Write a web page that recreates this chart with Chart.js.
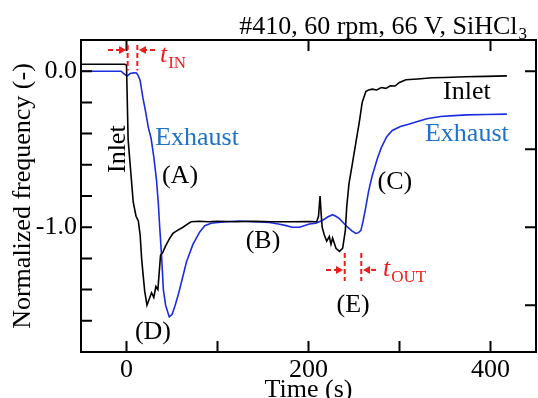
<!DOCTYPE html>
<html>
<head>
<meta charset="utf-8">
<script src="https://cdn.jsdelivr.net/npm/chart.js@4.4.1/dist/chart.umd.min.js"></script>
<style>
  html, body { margin: 0; padding: 0; background: #fff; }
  #wrap { width: 538px; height: 398px; }
</style>
</head>
<body>
<div id="wrap"><canvas id="c" width="538" height="398"></canvas></div>
<script>
// time (s) and normalized frequency
const inletT = [-50, -20, -2, 0, 1.8, 4.6, 7.4, 10.5, 13, 15, 16.6, 18.5, 20, 22.5, 25, 27.5, 30, 32.3, 34.5,
  37.4, 40, 43, 47.6, 51, 56, 62, 67, 71, 80, 90, 100, 120, 140, 160, 180, 200, 209, 211, 212.7, 214, 215, 217.4,
  220, 222.9, 224.7, 226.5, 230.2, 234, 237.5, 240.5, 242, 244.5, 248, 252, 256, 259, 263, 266, 270, 275, 280,
  285, 290, 295, 300, 307, 320, 336, 350, 372, 395, 418];
const inletV = [0.045, 0.045, 0.045, 0.04, -0.44, -0.64, -0.84, -0.93, -0.96, -1.05, -1.2, -1.32, -1.41, -1.5, -1.46,
  -1.42, -1.45, -1.38, -1.4, -1.18, -1.16, -1.12, -1.07, -1.04, -1.02, -1.0, -0.98, -0.965, -0.962, -0.965,
  -0.962, -0.965, -0.962, -0.965, -0.965, -0.963, -0.965, -0.93, -0.8, -0.92, -1.0, -1.05, -1.09, -1.06, -1.11,
  -1.07, -1.135, -1.155, -1.135, -1.02, -0.87, -0.72, -0.6, -0.46, -0.32, -0.2, -0.13, -0.12, -0.115, -0.12,
  -0.105, -0.11, -0.093, -0.095, -0.072, -0.055, -0.05, -0.042, -0.04, -0.036, -0.033, -0.03];

const exhaustT = [-50, -20, -6, -3, -1, 1, 4, 8, 11, 13, 15, 18, 21, 24, 27, 30, 33, 35, 36.5, 38.5, 40.5, 43, 47,
  50, 53, 57, 60.5, 66, 73, 80.5, 86, 93, 100, 110, 124, 140, 157, 167, 175.5, 182, 190, 201, 208, 215.6, 221,
  226.5, 230, 234, 238, 243, 248, 252, 255, 257.6, 260, 263, 266, 270, 275.7, 280, 286, 292, 301, 310, 318, 330,
  345, 360, 374, 395, 418];
const exhaustV = [0.0, 0.0, 0.0, -0.015, -0.025, -0.03, -0.015, -0.01, -0.012, -0.03, -0.06, -0.17, -0.26, -0.36,
  -0.43, -0.55, -0.7, -0.85, -1.0, -1.18, -1.4, -1.5, -1.575, -1.56, -1.51, -1.43, -1.35, -1.22, -1.11, -1.03,
  -0.99, -0.975, -0.97, -0.965, -0.96, -0.965, -0.97, -0.98, -0.99, -1.0, -1.0, -0.98, -0.975, -0.955, -0.935,
  -0.92, -0.93, -0.945, -0.97, -1.0, -1.025, -1.04, -1.035, -1.02, -0.96, -0.87, -0.77, -0.67, -0.56, -0.49,
  -0.42, -0.38, -0.355, -0.34, -0.325, -0.305, -0.29, -0.285, -0.28, -0.278, -0.275];

const xTicks = [0, 100, 200, 300, 400];
const xTopTicks = [0, 200, 400];
const xLabels = [0, 200, 400];
const yTicksLeft = [0.0, -0.2, -0.4, -0.6, -0.8, -1.0, -1.2, -1.4, -1.6];
const yTicksRight = [0.0, -0.5, -1.0, -1.5];
const yLabels = [0.0, -1.0];

const SERIF = '"Liberation Serif", "DejaVu Serif", serif';
const BLUE_LINE = '#1a2de0';
const BLUE_TEXT = '#1f72c8';
const RED = '#ee1c1c';

function pts(ts, vs) { return ts.map((t, i) => ({ x: t, y: vs[i] })); }

function arrow(ctx, x0, x1, y) {
  // dashed shaft from x0 toward x1, filled head at x1
  const dir = Math.sign(x1 - x0);
  ctx.save();
  ctx.strokeStyle = RED; ctx.fillStyle = RED; ctx.lineWidth = 2;
  ctx.setLineDash([5, 3]);
  ctx.beginPath(); ctx.moveTo(x0, y); ctx.lineTo(x1 - dir * 6, y); ctx.stroke();
  ctx.setLineDash([]);
  ctx.beginPath();
  ctx.moveTo(x1, y); ctx.lineTo(x1 - dir * 7, y - 4); ctx.lineTo(x1 - dir * 7, y + 4);
  ctx.closePath(); ctx.fill();
  ctx.restore();
}

function vdash(ctx, x, y0, y1) {
  ctx.save();
  ctx.strokeStyle = RED; ctx.lineWidth = 2; ctx.setLineDash([5, 3]);
  ctx.beginPath(); ctx.moveTo(x, y0); ctx.lineTo(x, y1); ctx.stroke();
  ctx.restore();
}

function subText(ctx, main, sub, x, y, mainFont, subFont, drop, color) {
  ctx.save();
  ctx.fillStyle = color; ctx.textAlign = 'left'; ctx.textBaseline = 'alphabetic';
  ctx.font = mainFont; ctx.fillText(main, x, y);
  const w = ctx.measureText(main).width;
  ctx.font = subFont; ctx.fillText(sub, x + w + 1, y + drop);
  ctx.restore();
}

const framePlugin = {
  id: 'frame',
  afterDraw(chart) {
    const { ctx, chartArea: a, scales: { x, y } } = chart;
    const X = t => x.getPixelForValue(t);
    const Y = v => y.getPixelForValue(v);
    ctx.save();
    ctx.strokeStyle = '#000'; ctx.lineWidth = 2;
    ctx.strokeRect(a.left, a.top, a.right - a.left, a.bottom - a.top);
    const L = 11;
    ctx.beginPath();
    xTicks.forEach(t => { ctx.moveTo(X(t), a.bottom); ctx.lineTo(X(t), a.bottom - L); });
    xTopTicks.forEach(t => { ctx.moveTo(X(t), a.top); ctx.lineTo(X(t), a.top + L); });
    yTicksLeft.forEach(v => { ctx.moveTo(a.left, Y(v)); ctx.lineTo(a.left + L, Y(v)); });
    yTicksRight.forEach(v => { ctx.moveTo(a.right, Y(v)); ctx.lineTo(a.right - L, Y(v)); });
    ctx.stroke();

    // axis titles
    ctx.fillStyle = '#000';
    ctx.font = '26px ' + SERIF;
    ctx.textAlign = 'center'; ctx.textBaseline = 'alphabetic';
    ctx.fillText('Time (s)', (a.left + a.right) / 2, 397);
    ctx.save();
    ctx.translate(23, (a.top + a.bottom) / 2);
    ctx.rotate(-Math.PI / 2);
    ctx.textBaseline = 'middle';
    ctx.fillText('Normalized frequency (-)', 0, 0);
    ctx.restore();

    // title, right aligned
    ctx.font = '26px ' + SERIF;
    const title = '#410, 60 rpm, 66 V, SiHCl';
    const tw = ctx.measureText(title).width;
    ctx.font = '17px ' + SERIF;
    const sw = ctx.measureText('3').width;
    subText(ctx, title, '3', 527 - tw - sw - 1, 34, '26px ' + SERIF, '17px ' + SERIF, 5, '#000');

    // curve labels
    ctx.textAlign = 'center'; ctx.textBaseline = 'middle';
    ctx.font = '26px ' + SERIF;
    ctx.fillStyle = '#000';
    ctx.save();
    ctx.translate(X(-9.3), Y(-0.5));
    ctx.rotate(-Math.PI / 2);
    ctx.fillText('Inlet', 0, 0);
    ctx.restore();
    ctx.fillText('(A)', X(58.8), Y(-0.672));
    ctx.fillText('(B)', X(150), Y(-1.088));
    ctx.fillText('(C)', X(295), Y(-0.71));
    ctx.fillText('(D)', X(29.1), Y(-1.672));
    ctx.fillText('(E)', X(249), Y(-1.499));
    ctx.fillText('Inlet', X(374), Y(-0.133));
    ctx.fillStyle = BLUE_TEXT;
    ctx.fillText('Exhaust', X(77.5), Y(-0.428));
    ctx.fillText('Exhaust', X(374), Y(-0.403));

    // t_IN marker
    vdash(ctx, X(1.3), Y(0.168), Y(0.005));
    vdash(ctx, X(11.9), Y(0.168), Y(0.005));
    arrow(ctx, X(-20.3), X(-0.5), Y(0.136));
    arrow(ctx, X(31.3), X(13.7), Y(0.136));
    subText(ctx, 't', 'IN', X(36.8), Y(0.059), 'italic 26px ' + SERIF, '17px ' + SERIF, 6, RED);

    // t_OUT marker
    vdash(ctx, X(239.8), Y(-1.165), Y(-1.345));
    vdash(ctx, X(258), Y(-1.165), Y(-1.345));
    arrow(ctx, X(219.2), X(237.9), Y(-1.274));
    arrow(ctx, X(274.2), X(259.9), Y(-1.274));
    subText(ctx, 't', 'OUT', X(281.9), Y(-1.313), 'italic 26px ' + SERIF, '17px ' + SERIF, 6, RED);
    ctx.restore();
  }
};

new Chart(document.getElementById('c').getContext('2d'), {
  type: 'line',
  data: {
    datasets: [
      { label: 'Inlet', data: pts(inletT, inletV), borderColor: '#000', borderWidth: 1.6,
        pointRadius: 0, tension: 0, fill: false },
      { label: 'Exhaust', data: pts(exhaustT, exhaustV), borderColor: BLUE_LINE, borderWidth: 1.6,
        pointRadius: 0, tension: 0, fill: false }
    ]
  },
  options: {
    responsive: false,
    animation: false,
    devicePixelRatio: 1,
    layout: { padding: { top: 40, right: 2, left: 0, bottom: 0 } },
    plugins: { legend: { display: false }, tooltip: { enabled: false } },
    scales: {
      x: {
        type: 'linear', min: -50, max: 450,
        grid: { display: false, drawTicks: false },
        border: { display: false },
        afterBuildTicks: s => { s.ticks = xTicks.map(v => ({ value: v })); },
        afterFit: s => { s.height = 46; },
        ticks: {
          font: { family: SERIF, size: 26 }, color: '#000', padding: 3,
          maxRotation: 0, autoSkip: false,
          callback: v => xLabels.includes(v) ? String(v) : ''
        }
      },
      y: {
        type: 'linear', min: -1.8, max: 0.2,
        grid: { display: false, drawTicks: false },
        border: { display: false },
        afterBuildTicks: s => { s.ticks = yTicksLeft.map(v => ({ value: v })); },
        afterFit: s => { s.width = 81; },
        ticks: {
          font: { family: SERIF, size: 26 }, color: '#000', padding: 4, autoSkip: false,
          callback: v => yLabels.some(l => Math.abs(l - v) < 1e-9) ? v.toFixed(1) : ''
        }
      }
    }
  },
  plugins: [framePlugin]
});
</script>
</body>
</html>
